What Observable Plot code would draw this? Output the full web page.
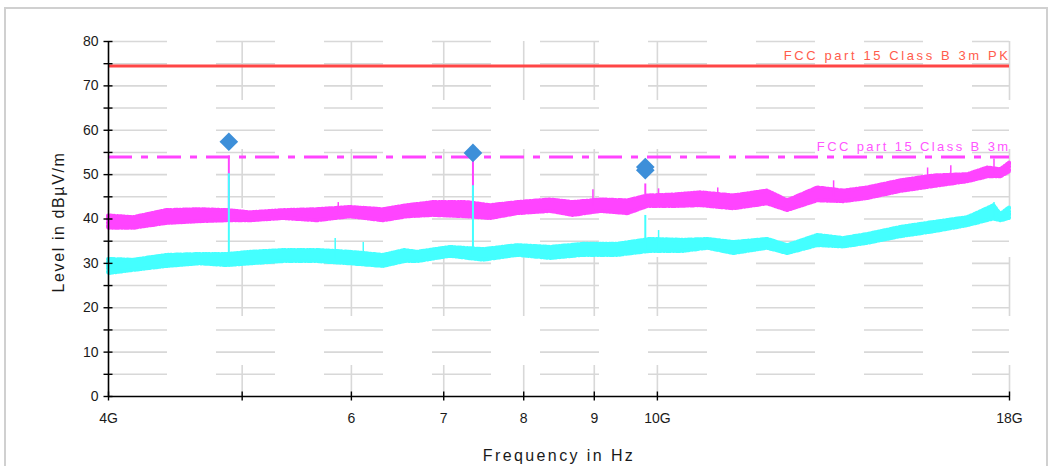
<!DOCTYPE html>
<html>
<head>
<meta charset="utf-8">
<script src="https://cdn.jsdelivr.net/npm/d3@7"></script>
<script src="https://cdn.jsdelivr.net/npm/@observablehq/plot@0.6"></script>
<style>
  html, body { margin: 0; padding: 0; background: #fff; }
  #wrap { position: relative; width: 1054px; height: 466px; overflow: hidden; }
  #border { position: absolute; left: 4px; top: 7px; width: 1044px; height: 480px; border: 2px solid #d0d0d0; box-sizing: border-box; }
  #chart { position: absolute; left: 0; top: 0; }
</style>
</head>
<body>
<div id="wrap"><div id="border"></div><div id="chart"></div></div>
<script>
// Frequencies in GHz, levels in dBµV/m

// Peak detector trace (band: lower / upper envelope)
const peakFreq = [4.0, 4.17, 4.41, 4.66, 4.88, 5.07, 5.36, 5.67, 5.99, 6.33, 6.59, 6.88, 7.28, 7.57, 7.92, 8.37, 8.69, 9.10, 9.52, 9.84, 10.27, 10.75, 11.36, 12.02, 12.43, 13.07, 13.65, 14.20, 15.01, 15.86, 16.79, 17.36, 17.74, 18.0];
const peakHi   = [40.7, 40.3, 41.9, 42.1, 41.9, 41.4, 41.9, 42.1, 42.6, 42.1, 43.0, 43.7, 43.7, 43.0, 43.7, 44.3, 43.7, 44.3, 44.1, 45.2, 45.4, 45.9, 45.2, 46.3, 44.1, 47.0, 46.3, 47.0, 48.6, 49.7, 50.0, 51.5, 51.1, 52.6];
const peakLo   = [37.9, 37.9, 39.0, 39.4, 39.6, 39.6, 40.1, 39.6, 40.5, 39.6, 40.5, 40.8, 40.5, 40.1, 41.2, 41.7, 40.8, 41.7, 41.2, 42.8, 42.8, 43.0, 42.3, 43.4, 41.9, 44.1, 43.9, 44.6, 46.2, 47.3, 48.4, 49.5, 49.5, 50.6];

// Average detector trace
const avgFreq = [4.0, 4.17, 4.41, 4.66, 4.88, 5.07, 5.36, 5.67, 5.99, 6.33, 6.56, 6.70, 7.08, 7.48, 7.92, 8.37, 8.84, 9.36, 9.89, 10.45, 10.88, 11.36, 12.02, 12.43, 13.07, 13.65, 14.20, 15.01, 15.86, 16.79, 17.54, 17.74, 18.0];
const avgHi   = [30.9, 30.7, 31.8, 32.0, 32.0, 32.5, 32.9, 32.9, 32.5, 31.8, 32.9, 32.5, 33.6, 33.1, 34.0, 33.6, 34.3, 34.3, 35.4, 35.2, 35.4, 34.7, 35.4, 34.0, 36.3, 35.6, 36.5, 38.1, 39.2, 40.3, 43.0, 41.0, 42.5];
const avgLo   = [27.7, 28.4, 29.3, 29.9, 29.5, 29.9, 30.4, 30.4, 29.9, 29.3, 30.4, 30.4, 31.6, 30.7, 31.8, 31.1, 31.8, 31.8, 32.7, 32.7, 33.4, 32.2, 33.4, 32.2, 34.0, 33.7, 34.5, 36.0, 37.1, 38.5, 40.0, 39.6, 40.1];

// Short noise spikes standing out of each trace
const peakSpikeFreq = [5.87, 8.98, 10.02, 11.06, 13.42, 15.70, 16.32, 17.54];
const peakSpikeBase = [41.0, 43.0, 44.0, 44.0, 45.0, 48.0, 49.0, 50.0];
const peakSpikeTop  = [43.7, 46.6, 46.8, 47.0, 48.6, 51.5, 52.0, 53.5];
const avgSpikeFreq = [5.84, 6.12, 10.02, 17.54];
const avgSpikeBase = [31.0, 31.0, 33.0, 40.0];
const avgSpikeTop  = [35.6, 34.7, 37.4, 43.7];

// Emissions found (spectral lines)
const emisFreq     = [4.89, 7.35, 9.80];
const emisPeakBase = [40.0, 42.0, 43.0];
const emisPeakTop  = [54.2, 53.6, 47.9];
const emisAvgBase  = [30.0, 32.0, 33.0];
const emisAvgTop   = [50.2, 47.5, 40.8];

// Final measurement markers
const markerFreq  = [4.89, 7.35, 9.80, 9.80];
const markerLevel = [57.4, 54.9, 51.7, 51.0];

// Limit lines
const limitNames  = ["FCC part 15 Class B 3m PK", "FCC part 15 Class B 3m"];
const limitLevels = [74.5, 54];

// Axes
const xTicks      = [4, 5, 6, 7, 8, 9, 10, 18];
const xTickLabels = ["4G", "", "6", "7", "8", "9", "10G", "18G"];
const xGrid       = [5, 6, 7, 8, 9, 10, 18];
const yTicks      = [0, 5, 10, 15, 20, 25, 30, 35, 40, 45, 50, 55, 60, 65, 70, 75, 80];
const yLabels     = [0, 10, 20, 30, 40, 50, 60, 70, 80];
const yGrid       = [5, 10, 15, 20, 25, 30, 35, 40, 45, 50, 55, 60, 65, 70, 75, 80];

const peak = peakFreq.map((f, i) => ({f, lo: peakLo[i], hi: peakHi[i]}));
const avg = avgFreq.map((f, i) => ({f, lo: avgLo[i], hi: avgHi[i]}));
const peakSpikes = peakSpikeFreq.map((f, i) => ({f, base: peakSpikeBase[i], top: peakSpikeTop[i]}));
const avgSpikes = avgSpikeFreq.map((f, i) => ({f, base: avgSpikeBase[i], top: avgSpikeTop[i]}));
const emissions = emisFreq.map((f, i) => ({f, pb: emisPeakBase[i], pt: emisPeakTop[i], ab: emisAvgBase[i], at: emisAvgTop[i]}));
const markers = markerFreq.map((f, i) => ({f, level: markerLevel[i]}));
const xLabelMap = new Map(xTicks.map((t, i) => [t, xTickLabels[i]]));

const MAGENTA = "#ff44ff";
const CYAN = "#44ffff";
const RED = "#ff4646";
const GRID = "#d8d8d8";

// fuzzy edge on the trace bands, like a dense sweep
const fuzz = {strokeWidth: 4, strokeDasharray: "1,1.2,2,1.8,1,2.5"};

const chart = Plot.plot({
  width: 1054,
  height: 466,
  marginLeft: 108,
  marginRight: 45,
  marginTop: 41,
  marginBottom: 70,
  style: {fontFamily: "'Liberation Sans', Arial, sans-serif", fontSize: "14px", color: "#1a1a1a", background: "transparent"},
  x: {type: "log", domain: [4, 18]},
  y: {domain: [0, 80]},
  marks: [
    // broken grid lines
    Plot.ruleY(yGrid, {stroke: GRID, strokeWidth: 1.6, strokeDasharray: "59,49"}),
    Plot.ruleX(xGrid, {stroke: GRID, strokeWidth: 1.6, strokeDasharray: "59,49"}),

    // limit lines
    Plot.ruleY([limitLevels[0]], {stroke: RED, strokeWidth: 3}),
    Plot.ruleY([limitLevels[1]], {stroke: MAGENTA, strokeWidth: 3, strokeDasharray: "24,9,7,9"}),

    // peak trace
    Plot.areaY(peak, {x: "f", y1: "lo", y2: "hi", fill: MAGENTA, stroke: MAGENTA, ...fuzz}),
    Plot.ruleX(peakSpikes, {x: "f", y1: "base", y2: "top", stroke: MAGENTA, strokeWidth: 1.5}),
    Plot.ruleX(emissions, {x: "f", y1: "pb", y2: "pt", stroke: MAGENTA, strokeWidth: 2}),

    // average trace
    Plot.areaY(avg, {x: "f", y1: "lo", y2: "hi", fill: CYAN, stroke: CYAN, ...fuzz}),
    Plot.ruleX(avgSpikes, {x: "f", y1: "base", y2: "top", stroke: CYAN, strokeWidth: 1.5}),
    Plot.ruleX(emissions, {x: "f", y1: "ab", y2: "at", stroke: CYAN, strokeWidth: 2}),

    // measurement markers
    Plot.dot(markers, {x: "f", y: "level", symbol: "diamond2", r: 8.4, fill: "#3d8fd9"}),

    // limit line names
    Plot.text([limitNames[0]], {x: 18, y: limitLevels[0], text: d => d, textAnchor: "end", dy: -10, dx: 1, fill: "#ff5c4c", fontSize: 13}),
    Plot.text([limitNames[1]], {x: 18, y: limitLevels[1], text: d => d, textAnchor: "end", dy: -10, dx: 1, fill: "#ff55ff", fontSize: 13}),

    // axes
    Plot.ruleX([4], {stroke: "#000", strokeWidth: 1.6}),
    Plot.ruleY([0], {stroke: "#000", strokeWidth: 1.6}),
    Plot.axisY(yTicks, {anchor: "left", tickSize: 9, dx: 4.5, tickFormat: () => "", label: null, stroke: "#000", strokeWidth: 1.4}),
    Plot.axisY(yLabels, {anchor: "left", tickSize: 0, tickPadding: 10, label: null, fontSize: 14}),
    Plot.axisX(xTicks, {anchor: "bottom", tickSize: 9, dy: -4.5, tickFormat: () => "", label: null, stroke: "#000", strokeWidth: 1.4}),
    Plot.axisX(xTicks, {anchor: "bottom", tickSize: 0, tickPadding: 17, label: null, fontSize: 14, tickFormat: d => xLabelMap.get(d)}),

    // axis titles
    Plot.text(["Frequency in Hz"], {frameAnchor: "bottom", dy: 59, textAnchor: "middle", lineAnchor: "middle", text: d => d, fontSize: 16, fill: "#1a1a1a"}),
    Plot.text(["Level in dBµV/m"], {frameAnchor: "left", dx: -50, dy: 3, rotate: -90, textAnchor: "middle", lineAnchor: "middle", text: d => d, fontSize: 16, fill: "#1a1a1a"})
  ]
});

document.getElementById("chart").appendChild(chart);

// spaced lettering for the limit names and axis titles
const spacing = new Map([
  [limitNames[0], "2.6px"],
  [limitNames[1], "2.4px"],
  ["Frequency in Hz", "2.4px"],
  ["Level in dBµV/m", "1.6px"]
]);
d3.select(chart).selectAll("text")
  .filter(function () { return spacing.has(this.textContent); })
  .attr("letter-spacing", function () { return spacing.get(this.textContent); });
</script>
</body>
</html>
